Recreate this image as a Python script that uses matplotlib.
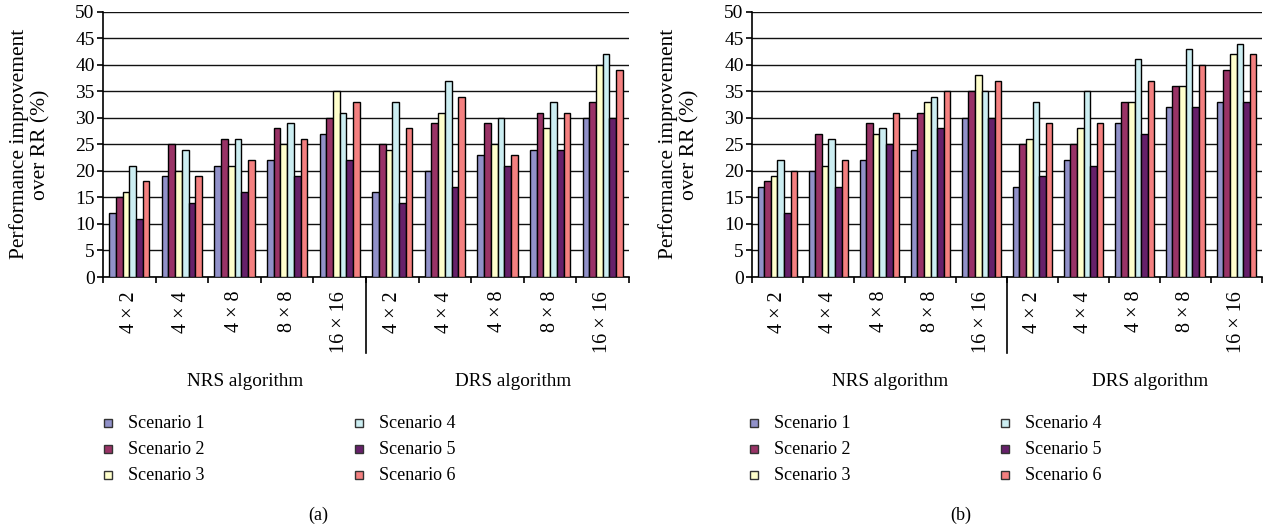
import matplotlib
matplotlib.use('Agg')
import matplotlib.pyplot as plt
from matplotlib.patches import Rectangle
import numpy as np

plt.rcParams['font.family'] = ['Liberation Serif', 'DejaVu Serif']

# categories (NRS block then DRS block)
sizes = ['4 × 2', '4 × 4', '4 × 8', '8 × 8', '16 × 16']
categories = sizes + sizes
scenarios = ['Scenario 1', 'Scenario 2', 'Scenario 3', 'Scenario 4', 'Scenario 5', 'Scenario 6']
colors = ['#9191C9', '#993366', '#FFFFCC', '#CCEEF2', '#66206A', '#F48080']

# chart (a): one list per scenario, 10 values (NRS 5 + DRS 5)
a_s1 = [12, 19, 21, 22, 27, 16, 20, 23, 24, 30]
a_s2 = [15, 25, 26, 28, 30, 25, 29, 29, 31, 33]
a_s3 = [16, 20, 21, 25, 35, 24, 31, 25, 28, 40]
a_s4 = [21, 24, 26, 29, 31, 33, 37, 30, 33, 42]
a_s5 = [11, 14, 16, 19, 22, 14, 17, 21, 24, 30]
a_s6 = [18, 19, 22, 26, 33, 28, 34, 23, 31, 39]

# chart (b)
b_s1 = [17, 20, 22, 24, 30, 17, 22, 29, 32, 33]
b_s2 = [18, 27, 29, 31, 35, 25, 25, 33, 36, 39]
b_s3 = [19, 21, 27, 33, 38, 26, 28, 33, 36, 42]
b_s4 = [22, 26, 28, 34, 35, 33, 35, 41, 43, 44]
b_s5 = [12, 17, 25, 28, 30, 19, 21, 27, 32, 33]
b_s6 = [20, 22, 31, 35, 37, 29, 29, 37, 40, 42]

data_a = [a_s1, a_s2, a_s3, a_s4, a_s5, a_s6]
data_b = [b_s1, b_s2, b_s3, b_s4, b_s5, b_s6]

W, H = 1264, 529
fig = plt.figure(figsize=(W / 100, H / 100), dpi=100)

FS = 13
bw = 0.128


def draw_chart(rect, data, tag, leg_x):
    ax = fig.add_axes(rect)
    x = np.arange(len(categories))
    for k, vals in enumerate(data):
        ax.bar(x + (k - 2.5) * bw, vals, width=bw, color=colors[k],
               edgecolor='black', linewidth=1.0, zorder=3)
    ax.set_xlim(-0.5, len(categories) - 0.5)
    ax.set_ylim(0, 50)
    ax.set_yticks(range(0, 51, 5))
    ax.yaxis.grid(True, color='#111111', linewidth=1.0, zorder=0)
    ax.set_axisbelow(True)
    for s in ['top', 'right']:
        ax.spines[s].set_visible(False)
    ax.spines['left'].set_linewidth(1.2)
    ax.spines['bottom'].set_linewidth(1.2)
    ax.tick_params(axis='y', labelsize=14, length=4, width=1.2, pad=2)
    # boundary ticks as major, labels on minor ticks
    ax.set_xticks(np.arange(-0.5, len(categories), 1.0))
    ax.set_xticklabels([])
    ax.tick_params(axis='x', which='major', length=4, width=1.2)
    ax.set_xticks(x, minor=True)
    ax.set_xticklabels(categories, minor=True, rotation=90, fontsize=14.5)
    ax.tick_params(axis='x', which='minor', length=0, pad=10)
    # separator between NRS and DRS
    ax.plot([4.5, 4.5], [0, -0.285], color='black', lw=1.2,
            transform=ax.get_xaxis_transform(), clip_on=False)

    l, b, w, h = rect
    ax_l = l * W
    ax_w = w * W
    fig.text((ax_l + 0.27 * ax_w) / W, 1 - 381 / H, 'NRS algorithm',
             ha='center', va='center', fontsize=13.8)
    fig.text((ax_l + 0.78 * ax_w) / W, 1 - 381 / H, 'DRS algorithm',
             ha='center', va='center', fontsize=13.8)
    fig.text((ax_l - 73) / W, b + h / 2, 'Performance improvement\nover RR (%)',
             rotation=90, ha='center', va='center', fontsize=15.5, linespacing=1.15)

    # legend, two columns
    for i, name in enumerate(scenarios):
        col, row = i // 3, i % 3
        mx = leg_x + col * 251
        my = 423 + row * 26
        fig.patches.append(Rectangle(((mx - 4) / W, 1 - (my + 4) / H), 8 / W, 8 / H,
                                     transform=fig.transFigure, facecolor=colors[i],
                                     edgecolor='#333333', linewidth=1.0))
        fig.text((mx + 20) / W, 1 - my / H, name, ha='left', va='center', fontsize=13)

    fig.text((ax_l + 0.41 * ax_w) / W, 1 - 515 / H, tag, ha='center', va='center', fontsize=13)
    return ax


bottom = 1 - 277 / H
height = (277 - 11.7) / H
draw_chart([103 / W, bottom, 526 / W, height], data_a, '(a)', 108)
draw_chart([752 / W, bottom, 510 / W, height], data_b, '(b)', 754)

fig.savefig('out.png', dpi=100)
